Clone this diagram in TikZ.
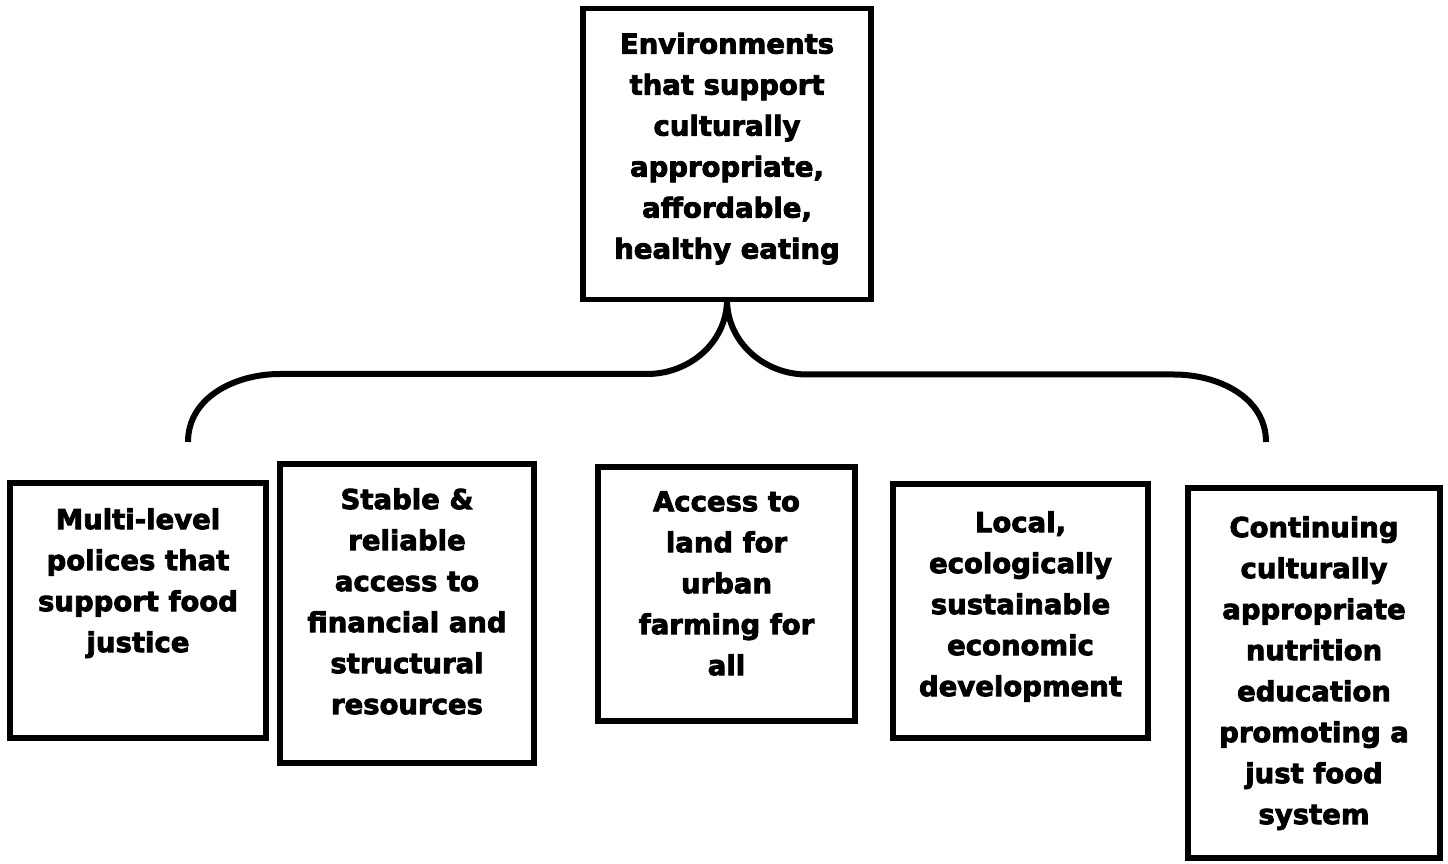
\documentclass[tikz,border=0pt]{standalone}
\usepackage{fontspec}
\setmainfont{DejaVu Sans}
\newfontfamily\boxfont{DejaVu Sans Bold}[FakeBold=3]
\usepackage{tikz}
\usetikzlibrary{positioning}

\begin{document}
\begin{tikzpicture}[x=1pt, y=1pt,
		framebox/.style={draw, black, line width=5.5pt, outer sep=0pt, inner sep=0pt},
		boxtext/.style={align=center, anchor=north, inner sep=0pt, font=\boxfont\fontsize{27.5}{41}\selectfont},
		brace/.style={black, line width=6pt}]
		\useasboundingbox (0,0) rectangle (1448,863);

		\node[framebox, minimum width=288pt, minimum height=291pt] (goal) at (727,709) {};
		\node[boxtext, below=24pt of goal.north] (goaltext) {Environments\\that support\\culturally\\appropriate,\\affordable,\\healthy eating};

		\node[framebox, minimum width=256pt, minimum height=255pt] (policy) at (138,252.5) {};
		\node[boxtext, below=25pt of policy.north] (policytext) {Multi-level\\polices that\\support food\\justice};

		\node[framebox, minimum width=254pt, minimum height=299pt] (resource) at (407,249.5) {};
		\node[boxtext, below=24pt of resource.north] (resourcetext) {Stable \&\\reliable\\access to\\financial and\\structural\\resources};

		\node[framebox, minimum width=257pt, minimum height=254pt] (land) at (726.5,269) {};
		\node[boxtext, below=24pt of land.north] (landtext) {Access to\\land for\\urban\\farming for\\all};

		\node[framebox, minimum width=255pt, minimum height=254pt] (economy) at (1020.5,252) {};
		\node[boxtext, below=27pt of economy.north] (economytext) {Local,\\ecologically\\sustainable\\economic\\development};

		\node[framebox, minimum width=252pt, minimum height=370pt] (education) at (1314,190) {};
		\node[boxtext, below=28pt of education.north] (educationtext) {Continuing\\culturally\\appropriate\\nutrition\\education\\promoting a\\just food\\system};

		\coordinate (braceleft) at (188,421);
		\coordinate (braceright) at (1266,421);
		\draw[brace] (braceleft) to[out=90, in=180] ++(92,68) -- ++(367,0) to[out=0, in=-90] (goal.south);
		\draw[brace] (goal.south) to[out=-90, in=180] ++(80,-75) -- ++(367,0) to[out=0, in=90] (braceright);
	\end{tikzpicture}
\end{document}
